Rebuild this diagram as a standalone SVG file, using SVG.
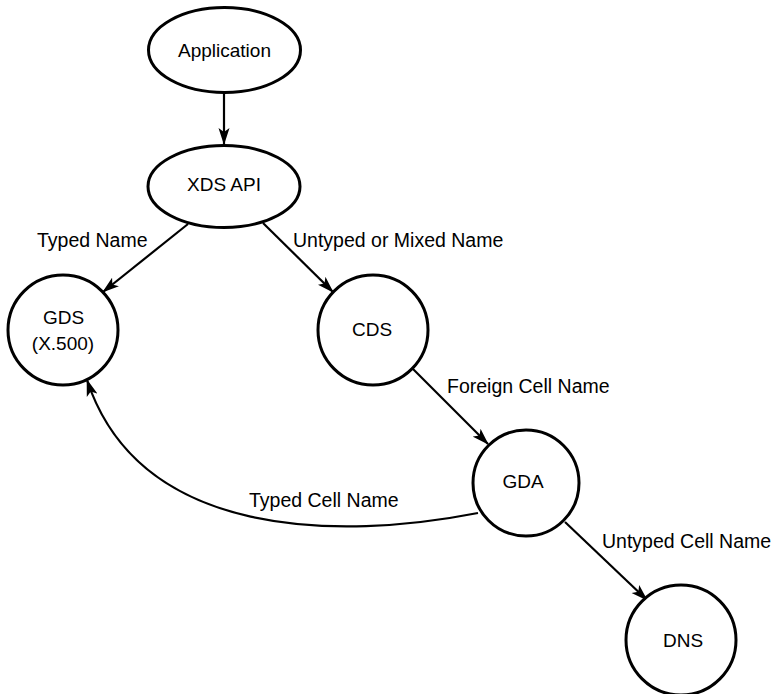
<svg xmlns="http://www.w3.org/2000/svg" width="775" height="694" viewBox="0 0 775 694">
<defs>
<style>
.node{fill:#fff;stroke:#000;stroke-width:3}
.lbl{font-family:"Liberation Sans",Arial,sans-serif;font-size:19.5px;fill:#000}
.nt{font-family:"Liberation Sans",Arial,sans-serif;font-size:19px;fill:#000;text-anchor:middle}
.edge{fill:none;stroke:#000;stroke-width:2.2}
</style>
<marker id="arr" markerUnits="userSpaceOnUse" markerWidth="18" markerHeight="12" viewBox="0 0 18 12" refX="16" refY="6" orient="auto">
<path d="M0,0.5 L17,6 L0,11.5 L4,6 z" fill="#000"/>
</marker>
</defs>
<rect width="775" height="694" fill="#fff"/>
<g id="connectors">
<line class="edge" x1="224" y1="93" x2="224" y2="144" marker-end="url(#arr)"/>
<line class="edge" x1="188" y1="224" x2="103" y2="292" marker-end="url(#arr)"/>
<line class="edge" x1="263" y1="223" x2="333" y2="292" marker-end="url(#arr)"/>
<line class="edge" x1="412" y1="368" x2="488" y2="444" marker-end="url(#arr)"/>
<line class="edge" x1="565" y1="522" x2="647" y2="600" marker-end="url(#arr)"/>
<path class="edge" d="M478,513 C340,540 140,540 87,380" marker-end="url(#arr)"/>
<text class="lbl" x="37" y="247">Typed Name</text>
<text class="lbl" x="293" y="247">Untyped or Mixed Name</text>
<text class="lbl" x="447" y="393">Foreign Cell Name</text>
<text class="lbl" x="249" y="507">Typed Cell Name</text>
<text class="lbl" x="602" y="548">Untyped Cell Name</text>
</g>
<g id="application">
<ellipse class="node" cx="224.5" cy="50" rx="76" ry="42.5"/>
<text class="nt" x="224.5" y="57">Application</text>
</g>
<g id="xdsapi">
<ellipse class="node" cx="224" cy="186.5" rx="76" ry="41"/>
<text class="nt" x="224" y="191">XDS API</text>
</g>
<g id="gds">
<circle class="node" cx="63" cy="330" r="55"/>
<text class="nt" x="63.5" y="324">GDS</text>
<text class="nt" x="63" y="350">(X.500)</text>
</g>
<g id="cds">
<circle class="node" cx="373" cy="330" r="55"/>
<text class="nt" x="372" y="336">CDS</text>
</g>
<g id="gda">
<circle class="node" cx="526" cy="483" r="53"/>
<text class="nt" x="523" y="488">GDA</text>
</g>
<g id="dns">
<circle class="node" cx="681" cy="640" r="55"/>
<text class="nt" x="683" y="647">DNS</text>
</g>
</svg>
